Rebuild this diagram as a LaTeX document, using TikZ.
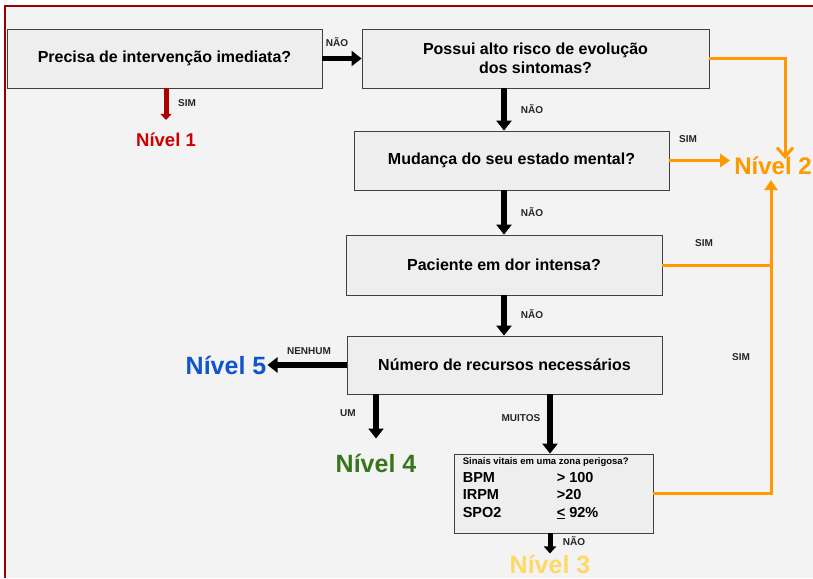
\documentclass[tikz,border=0pt]{standalone}
\usepackage{fontspec}
\setmainfont{Liberation Sans}
\usetikzlibrary{arrows.meta,calc}
\definecolor{fundo}{HTML}{F3F3F3}
\definecolor{caixafundo}{HTML}{EEEEEE}
\definecolor{moldura}{HTML}{990000}
\definecolor{vermelho}{HTML}{CC0000}
\definecolor{laranja}{HTML}{FF9900}
\definecolor{amarelo}{HTML}{FFD966}
\definecolor{verde}{HTML}{38761D}
\definecolor{azul}{HTML}{1155CC}

\begin{document}
\begin{tikzpicture}[x=1pt,y=-1pt,
  caixa/.style={draw=black!75,fill=caixafundo,line width=0.8pt,align=center,inner sep=0pt,
    font=\bfseries\fontsize{16}{19}\selectfont},
  nivel/.style={inner sep=1pt,font=\bfseries\fontsize{25}{30}\selectfont},
  rotulo/.style={inner sep=0pt,text=black!85,font=\bfseries\fontsize{10}{12}\selectfont},
  seta/.style={line width=5.5pt,-{Triangle[length=10pt,width=15pt]}},
  fio/.style={draw=laranja,line width=3pt}]
\useasboundingbox (0,0) rectangle (813,578);
\fill[white] (0,0) rectangle (813,578);
\fill[fundo] (5,6) rectangle (813,578);
\draw[moldura,line width=1.5pt] (5,578) -- (5,6) -- (813,6);

% perguntas
\node[caixa,minimum width=315pt,minimum height=59pt] (precisa) at (164.5,58.5) {Precisa de intervenção imediata?};
\node[caixa,minimum width=347pt,minimum height=59pt] (risco) at (535.5,58.5) {Possui alto risco de evolução\\dos sintomas?};
\node[caixa,minimum width=315pt,minimum height=59pt] (mental) at (511.5,160.5) {Mudança do seu estado mental?};
\node[caixa,minimum width=316pt,minimum height=60pt] (dor) at (504,265) {Paciente em dor intensa?};
\node[caixa,minimum width=315pt,minimum height=58pt] (recursos) at (504.5,365) {Número de recursos necessários};
\node[caixa,minimum width=199pt,minimum height=79pt] (sinais) at (553.5,493.5) {};
\node[anchor=north west,inner sep=0pt,align=left,font=\bfseries\fontsize{14.5}{17.5}\selectfont] (valores)
  at ($(sinais.north west)+(9,4)$)
  {{\fontsize{9.5}{11}\selectfont Sinais vitais em uma zona perigosa?}\\
   \makebox[94pt][l]{BPM}> 100\\
   \makebox[94pt][l]{IRPM}>20\\
   \makebox[94pt][l]{SPO2}\underline{<} 92\%};

% niveis
\node[nivel,text=vermelho,font=\bfseries\fontsize{18.5}{22}\selectfont] (n1) at (166,140) {Nível 1};
\node[nivel,text=laranja,font=\bfseries\fontsize{24}{29}\selectfont] (n2) at (773,166) {Nível 2};
\node[nivel,text=amarelo] (n3) at (550,564) {Nível 3};
\node[nivel,text=verde] (n4) at (376,463) {Nível 4};
\node[nivel,text=azul] (n5) at (226,365) {Nível 5};
\coordinate (eixo) at ([xshift=-2pt]n2.south);

% setas pretas
\draw[seta] (precisa.east) -- (risco.west);
\draw[seta] (dor.north |- risco.south) -- (dor.north |- mental.north);
\draw[seta] (dor.north |- mental.south) -- (dor.north);
\draw[seta] (dor.south) -- (dor.south |- recursos.north);
\draw[seta] (recursos.west) -- (n5.east);
\draw[seta,shorten >=14pt] (recursos.south -| n4.north) -- (n4.north);
\draw[seta] ([xshift=-3.5pt]recursos.south -| sinais.north) -- ([xshift=-3.5pt]sinais.north);
\draw[seta,line width=5pt,-{Triangle[length=7pt,width=12pt]}] ([xshift=-3.5pt]sinais.south) -- ([xshift=-3.5pt]sinais.south |- n3.north);
\draw[line width=5pt,draw=vermelho!85!black,-{Triangle[length=6pt,width=11pt]},shorten >=12pt] (precisa.south -| n1.north) -- (n1.north);

% setas laranja
\draw[fio,-{Straight Barb[length=9pt,width=16pt]}] (risco.east) -| ([xshift=12pt,yshift=-3pt]n2.north);
\draw[fio,-{Triangle[length=10pt,width=13pt]}] (mental.east) -- ([xshift=-3pt]mental.east -| n2.west);
\draw[fio] (dor.east) -- (dor.east -| eixo);
\draw[fio,-{Triangle[length=10pt,width=13pt]},shorten >=4pt] (sinais.east) -| (eixo);

% rotulos
\node[rotulo] (r1) at (337,42) {NÃO};
\node[rotulo] (r2) at (187,103) {SIM};
\node[rotulo] (r3) at (532,109) {NÃO};
\node[rotulo] (r4) at (532,212) {NÃO};
\node[rotulo] (r5) at (532,314) {NÃO};
\node[rotulo] (r6) at (309,351) {NENHUM};
\node[rotulo] (r7) at (348,413) {UM};
\node[rotulo] (r8) at (521,418) {MUITOS};
\node[rotulo] (r9) at (574,541) {NÃO};
\node[rotulo] (r10) at (688,139) {SIM};
\node[rotulo] (r11) at (704,243) {SIM};
\node[rotulo] (r12) at (741,357) {SIM};
\end{tikzpicture}
\end{document}
